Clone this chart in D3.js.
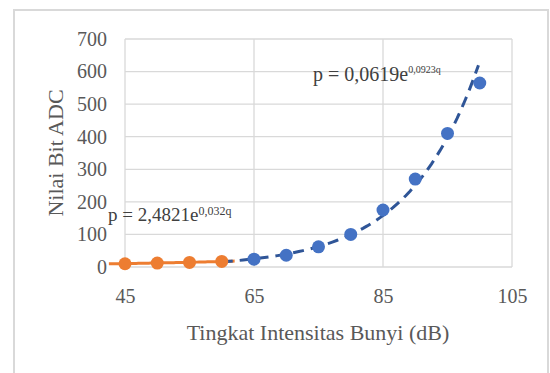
<!DOCTYPE html>
<html lang="en">
<head>
<meta charset="UTF-8">
<title>Nilai Bit ADC</title>
<style>
    body{ margin:0; background:#fff; }
    svg{ display:block; }
    .tick text{ font-family:"Liberation Serif", serif; font-size:20px; fill:#595959; }
    .label{ font-family:"Liberation Serif", serif; font-size:22px; fill:#595959; text-anchor:middle; }
    .eq{ font-family:"Liberation Serif", serif; fill:#404040; }
</style>
<script src="https://d3js.org/d3.v7.min.js"></script>
</head>
<body>
<svg id="chart" width="550" height="373"></svg>
<script>
    // data
    let orangeX = [45, 50, 55, 60]
    let orangeY = [10, 12, 14, 17]
    let blueX = [65, 70, 75, 80, 85, 90, 95, 100]
    let blueY = [24, 36, 62, 100, 175, 270, 410, 565]
    let xTicks = [45, 65, 85, 105]
    let yTicks = [0, 100, 200, 300, 400, 500, 600, 700]
    // fitted trendlines shown on the chart: p = a * e^(b q)
    let orangeFit = {a: 2.4821, b: 0.032, from: 42.5, to: 62}
    let blueFit = {a: 0.0619, b: 0.0923, from: 60, to: 99.8}

    let svg = d3.select("#chart")
    let margin = {left: 125, right: 38, top: 39, bottom: 106}
    let w = 550, h = 373

    let x = d3.scaleLinear().domain([45, 105]).range([margin.left, w - margin.right])
    let y = d3.scaleLinear().domain([0, 700]).range([h - margin.bottom, margin.top])

    // outer frame
    svg.append("rect")
        .attr("x", 14).attr("y", 10)
        .attr("width", 534).attr("height", 370)
        .attr("fill", "none").attr("stroke", "#d9d9d9").attr("stroke-width", 2)

    // gridlines
    svg.append("g").selectAll("line").data(yTicks).enter().append("line")
        .attr("x1", x(45)).attr("x2", x(105))
        .attr("y1", d => y(d)).attr("y2", d => y(d))
        .attr("stroke", "#d9d9d9").attr("stroke-width", 1.3)
    svg.append("g").selectAll("line").data(xTicks).enter().append("line")
        .attr("y1", y(0)).attr("y2", y(700))
        .attr("x1", d => x(d)).attr("x2", d => x(d))
        .attr("stroke", "#d9d9d9").attr("stroke-width", 1.3)

    // axes (labels only)
    let xAxis = d3.axisBottom(x).tickValues(xTicks).tickSize(0).tickPadding(22)
    let yAxis = d3.axisLeft(y).tickValues(yTicks).tickSize(0).tickPadding(18)
    svg.append("g").attr("transform", `translate(0,${y(0)})`).call(xAxis)
        .call(g => g.select(".domain").remove())
    svg.append("g").attr("transform", `translate(${x(45)},0)`).call(yAxis)
        .call(g => g.select(".domain").remove())

    // axis titles
    svg.append("text").attr("class", "label")
        .attr("x", 318).attr("y", 340)
        .text("Tingkat Intensitas Bunyi (dB)")
    svg.append("text").attr("class", "label")
        .attr("transform", `translate(63,${(y(0) + y(700)) / 2}) rotate(-90)`)
        .text("Nilai Bit ADC")

    // series lines
    let line = d3.line().x(d => x(d[0])).y(d => y(d[1]))
    let orangeData = d3.zip(orangeX, orangeY)
    let blueData = d3.zip(blueX, blueY)

    function fitPoints(f) {
        let pts = []
        let n = 60
        for (let i = 0; i <= n; i++) {
            let q = f.from + (f.to - f.from) * i / n
            pts.push([q, f.a * Math.exp(f.b * q)])
        }
        return pts
    }

    svg.append("path").datum(fitPoints(orangeFit))
        .attr("d", line).attr("fill", "none")
        .attr("stroke", "#ED7D31").attr("stroke-width", 3)

    svg.append("path").datum(fitPoints(blueFit))
        .attr("d", line).attr("fill", "none")
        .attr("stroke", "#2F5597").attr("stroke-width", 3)
        .attr("stroke-dasharray", "11,7")

    // markers
    svg.append("g").selectAll("circle").data(orangeData).enter().append("circle")
        .attr("cx", d => x(d[0])).attr("cy", d => y(d[1])).attr("r", 6.5)
        .attr("fill", "#ED7D31")
    svg.append("g").selectAll("circle").data(blueData).enter().append("circle")
        .attr("cx", d => x(d[0])).attr("cy", d => y(d[1])).attr("r", 6.5)
        .attr("fill", "#4472C4")

    // equations
    let eq1 = svg.append("text").attr("class", "eq").attr("x", 108).attr("y", 221)
        .attr("font-size", "19px")
    eq1.append("tspan").text("p = 2,4821e")
    eq1.append("tspan").attr("dy", -6).attr("font-size", "12px").text("0,032q")

    let eq2 = svg.append("text").attr("class", "eq").attr("x", 313).attr("y", 81)
        .attr("font-size", "20px")
    eq2.append("tspan").text("p = 0,0619e")
    eq2.append("tspan").attr("dy", -8).attr("font-size", "10px").text("0,0923q")
</script>
</body>
</html>
